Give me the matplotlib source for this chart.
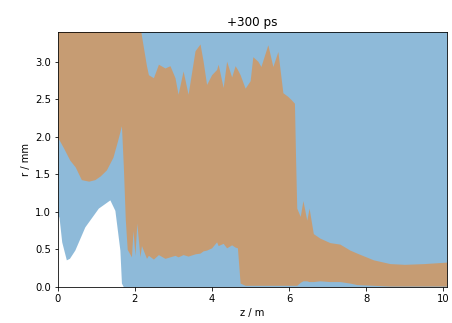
import numpy as np
import matplotlib
matplotlib.use("Agg")
import matplotlib.pyplot as plt

# blue region: lower edge, filled up to the top of the plot
z_blue = [0, 0.03, 0.1, 0.22, 0.3, 0.44, 0.7, 1.05, 1.35, 1.48, 1.61, 1.65, 1.7, 10.1]
r_blue_lo = [0.95, 0.93, 0.6, 0.36, 0.38, 0.49, 0.8, 1.05, 1.16, 1.02, 0.49, 0.05, 0.0, 0.0]
r_blue_hi = [3.5] * len(z_blue)

# orange region: lower and upper edge
z_orange = [0, 0.15, 0.31, 0.45, 0.61, 0.8, 0.96, 1.1, 1.26, 1.43, 1.55, 1.65, 1.7, 1.75,
            1.8, 1.91, 1.95, 2.0, 2.05, 2.13, 2.17, 2.3, 2.35, 2.48, 2.61, 2.78, 2.91, 3.04,
            3.12, 3.25, 3.38, 3.56, 3.69, 3.77, 3.86, 3.99, 4.12, 4.16, 4.29, 4.38, 4.51, 4.6,
            4.66, 4.73, 4.86, 4.99, 5.06, 5.19, 5.27, 5.45, 5.58, 5.71, 5.84, 5.97, 6.05, 6.14,
            6.17, 6.2, 6.29, 6.36, 6.46, 6.52, 6.63, 6.8, 7.06, 7.32, 7.58, 7.76, 8.19, 8.62,
            9.0, 9.5, 10.1]
r_orange_lo = [1.99, 1.85, 1.69, 1.6, 1.43, 1.41, 1.43, 1.48, 1.56, 1.73, 1.95, 2.15, 1.6, 0.9,
               0.5, 0.4, 0.75, 0.42, 0.85, 0.4, 0.55, 0.38, 0.42, 0.37, 0.43, 0.38, 0.4, 0.42,
               0.4, 0.43, 0.41, 0.44, 0.45, 0.48, 0.49, 0.52, 0.6, 0.55, 0.58, 0.52, 0.56, 0.53,
               0.52, 0.05, 0.02, 0.02, 0.02, 0.02, 0.02, 0.02, 0.02, 0.02, 0.02, 0.02, 0.02, 0.02,
               0.02, 0.02, 0.06, 0.08, 0.08, 0.07, 0.07, 0.08, 0.07, 0.07, 0.05, 0.03, 0.02, 0.01,
               0.01, 0.01, 0.01]
r_orange_hi = [3.5, 3.5, 3.5, 3.5, 3.5, 3.5, 3.5, 3.5, 3.5, 3.5, 3.5, 3.5, 3.5, 3.5,
               3.5, 3.5, 3.5, 3.5, 3.5, 3.5, 3.35, 2.95, 2.83, 2.79, 2.97, 2.92, 2.95, 2.79,
               2.57, 2.88, 2.57, 3.15, 3.24, 3.01, 2.7, 2.83, 2.9, 2.97, 2.66, 3.01, 2.8, 2.95,
               2.9, 2.83, 2.65, 2.75, 3.07, 3.01, 2.94, 3.23, 2.94, 3.14, 2.59, 2.54, 2.5, 2.45,
               1.7, 1.05, 0.94, 1.15, 0.89, 1.05, 0.71, 0.65, 0.59, 0.57, 0.49, 0.45, 0.36, 0.31,
               0.3, 0.31, 0.33]

fig = plt.figure(figsize=(452 / 72, 323 / 72), dpi=72)
ax = fig.add_axes([0.128, 0.112, 0.861, 0.789])

ax.fill_between(z_blue, r_blue_lo, r_blue_hi, color='C0', alpha=0.5, lw=0)
ax.fill_between(z_orange, r_orange_lo, r_orange_hi, color='C1', alpha=0.5, lw=0)

ax.set_xlim(0, 10.1)
ax.set_ylim(0, 3.4)
ax.set_xticks(np.arange(0, 11, 2))
ax.set_yticks(np.arange(0, 3.01, 0.5))
ax.set_xlabel('z / m')
ax.set_ylabel('r / mm')
ax.set_title('+300 ps')

fig.savefig('out.png', dpi=72)
